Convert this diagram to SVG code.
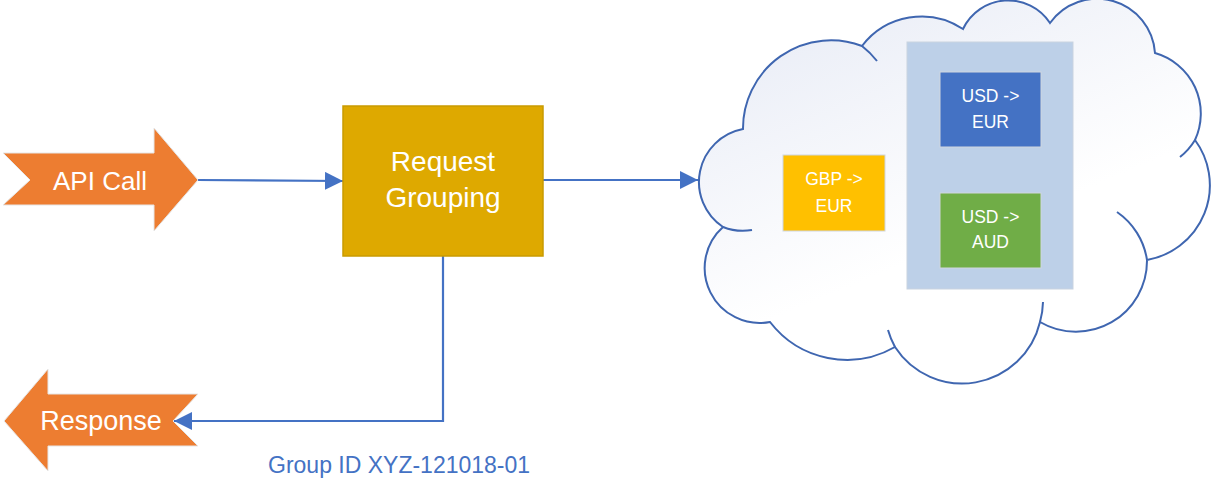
<svg xmlns="http://www.w3.org/2000/svg" width="1212" height="495" viewBox="0 0 1212 495">
  <style>
    .big { font-family: "Liberation Sans", Arial, sans-serif; fill: #FFFFFF; text-anchor: middle; }
    .small { font-family: "Liberation Sans", Arial, sans-serif; font-size: 17.5px; fill: #FFFFFF; text-anchor: middle; }
    .orange { fill: #ED7D31; stroke: #E6E6E6; stroke-width: 1; }
    .conn { fill: none; stroke: #4472C4; stroke-width: 2.2; }
    .cloud { stroke: #3F66B0; stroke-width: 2; }
    .tail { fill: none; stroke: #3F66B0; stroke-width: 2; }
    .box { stroke: #D0D6DE; stroke-width: 1; }
  </style>
  <defs>
    <marker id="arrow" markerUnits="userSpaceOnUse" markerWidth="19" markerHeight="18" refX="18" refY="9" orient="auto">
      <path d="M0,0 L18,9 L0,18 Z" fill="#4472C4"/>
    </marker>
    <linearGradient id="cloudGrad" x1="0" y1="0" x2="0.55" y2="1">
      <stop offset="0" stop-color="#E6EAF5"/>
      <stop offset="0.7" stop-color="#FFFFFF"/>
      <stop offset="1" stop-color="#FFFFFF"/>
    </linearGradient>
  </defs>

  <rect width="1212" height="495" fill="#FFFFFF"/>

  <g id="connectors">
    <path class="conn" d="M198,180 L343,181" marker-end="url(#arrow)"/>
    <path class="conn" d="M543,180 L698,180" marker-end="url(#arrow)"/>
    <path class="conn" d="M443,256 L443,421 L174,421" marker-end="url(#arrow)"/>
  </g>

  <g id="api-call">
    <polygon class="orange" points="3,153 154,153 154,128 198,180 154,231 154,205 3,205 30,180"/>
    <text class="big" x="100" y="190" font-size="26">API Call</text>
  </g>

  <g id="request-grouping">
    <rect x="343" y="106" width="200" height="150" fill="#DEA900" stroke="#C99B00" stroke-width="1.5"/>
    <text class="big" x="443" y="171" font-size="28">Request</text>
    <text class="big" x="443" y="207" font-size="28">Grouping</text>
  </g>

  <g id="response">
    <polygon class="orange" points="4,421 48,369 48,394 198,394 173,421 198,446 48,446 48,471"/>
    <text class="big" x="101" y="430" font-size="27">Response</text>
  </g>

  <g id="group-id">
    <text x="268" y="473" font-family="'Liberation Sans', Arial, sans-serif" font-size="23" fill="#4472C4">Group ID XYZ-121018-01</text>
  </g>

  <g id="cloud">
    <path class="cloud" fill="url(#cloudGrad)" d="M723,227
      A54,54 0 0 1 743,129
      A88,88 0 0 1 862,46
      A75,75 0 0 1 963,29
      A50,50 0 0 1 1050,23
      A58,58 0 0 1 1155,53
      A63,63 0 0 1 1195,140
      A76,76 0 0 1 1147,260
      A71,71 0 0 1 1040,322
      A80,80 0 0 1 895,347
      A97,97 0 0 1 770,322
      A55,55 0 0 1 723,227 Z"/>
    <path class="tail" d="M862,46 A88,88 0 0 1 877,61"/>
    <path class="tail" d="M1195,140 A63,63 0 0 1 1180,157"/>
    <path class="tail" d="M1117,212 A71,71 0 0 1 1147,260"/>
    <path class="tail" d="M1043,302 A80,80 0 0 1 1040,322"/>
    <path class="tail" d="M895,347 A80,80 0 0 1 888,330"/>
    <path class="tail" d="M752,230 A54,54 0 0 1 723,227"/>
  </g>

  <g id="group-container">
    <rect x="907" y="42" width="166" height="247" fill="#BDD0E8" stroke="#C9D3E0" stroke-width="1"/>
  </g>

  <g id="gbp-eur">
    <rect class="box" x="783" y="155" width="102" height="76" fill="#FFC000"/>
    <text class="small" x="834" y="185">GBP -&gt;</text>
    <text class="small" x="834" y="212">EUR</text>
  </g>

  <g id="usd-eur">
    <rect class="box" x="940" y="72" width="101" height="75" fill="#4472C4"/>
    <text class="small" x="990.5" y="102">USD -&gt;</text>
    <text class="small" x="990.5" y="128">EUR</text>
  </g>

  <g id="usd-aud">
    <rect class="box" x="940" y="193" width="101" height="75" fill="#70AD47"/>
    <text class="small" x="990.5" y="223">USD -&gt;</text>
    <text class="small" x="990.5" y="248">AUD</text>
  </g>
</svg>
